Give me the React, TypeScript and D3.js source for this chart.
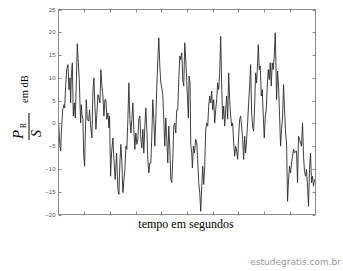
import React from "react";
import * as d3 from "d3";

const timeSec = [
  0.01, 0.045, 0.084, 0.11, 0.162, 0.214, 0.24, 0.278, 0.317, 0.369, 0.408, 0.447, 0.472, 0.498, 0.537, 0.576,
  0.615, 0.654, 0.693, 0.731, 0.77, 0.809, 0.835, 0.861, 0.887, 0.913, 0.951, 0.977, 1.016, 1.042, 1.081, 1.12,
  1.172, 1.21, 1.249, 1.301, 1.34, 1.379, 1.417, 1.456, 1.495, 1.534, 1.573, 1.612, 1.65, 1.689, 1.728, 1.767,
  1.806, 1.845, 1.883, 1.922, 1.961, 1.987, 2.026, 2.065, 2.117, 2.155, 2.207, 2.259, 2.311, 2.35, 2.388, 2.427,
  2.466, 2.505,
  2.583, 2.621, 2.66, 2.699, 2.738, 2.777, 2.816, 2.854, 2.893, 2.932, 2.971, 3.01, 3.049, 3.087, 3.126, 3.165,
  3.204, 3.243, 3.282, 3.32, 3.359, 3.398, 3.437, 3.476, 3.515, 3.553, 3.592, 3.631, 3.67, 3.709, 3.748, 3.786,
  3.825, 3.864, 3.903, 3.942, 3.981, 4.019, 4.058, 4.097, 4.136, 4.175, 4.214, 4.252, 4.291, 4.33, 4.369, 4.408,
  4.447, 4.485, 4.524, 4.563, 4.602, 4.641, 4.68, 4.718, 4.757, 4.796, 4.835, 4.874, 4.913, 4.951,
  5.016, 5.055, 5.081, 5.12, 5.146, 5.184, 5.21, 5.249, 5.288, 5.34, 5.379, 5.417, 5.456, 5.495, 5.534, 5.573,
  5.612, 5.65, 5.689, 5.728, 5.767, 5.806, 5.845, 5.883, 5.922, 5.961, 6.0, 6.039, 6.078, 6.117, 6.155, 6.194,
  6.233, 6.272, 6.311, 6.35, 6.388, 6.427, 6.466, 6.505, 6.544, 6.583, 6.621, 6.66, 6.699, 6.738, 6.777, 6.816,
  6.854, 6.893, 6.932, 6.971, 7.01, 7.049, 7.087, 7.126, 7.165, 7.204, 7.243, 7.282, 7.32, 7.359, 7.398, 7.437,
  7.476,
  7.515, 7.553, 7.592, 7.631, 7.67, 7.709, 7.748, 7.773, 7.812, 7.851, 7.89, 7.929, 7.968, 8.006, 8.045, 8.084,
  8.123, 8.162, 8.201, 8.24, 8.278, 8.317, 8.356, 8.395, 8.434, 8.459, 8.485, 8.524, 8.563, 8.602, 8.641, 8.68,
  8.718, 8.757, 8.796, 8.835, 8.874, 8.913, 8.951, 8.99, 9.029, 9.068, 9.107, 9.146, 9.184, 9.223, 9.262, 9.301,
  9.34, 9.379, 9.417, 9.456, 9.495, 9.534, 9.573, 9.612, 9.65, 9.689, 9.728, 9.767, 9.806, 9.845, 9.883, 9.922,
  9.961,
];

const prDb = [
  0.1, -4.3, -6.1, -2.1, 3.0, 4.1, 3.4, 8.2, 11.8, 12.9, 7.4, 10, 4.5, 10, 13.3, 1.6,
  4.5, 1.2, 8.9, 17.5, 13.3, 9.6, 4.5, 0.1, 4.1, 2, 0.9, -6.5, -9.4, -2.8, 5.2, 0.9,
  0.5, 3, -0.6, -3.2, 7.4, 10, 3.8, -1.3, 2.3, 6.3, 5.6, 4.5, 11.8, 8.2, 6, 1.6,
  5.2, 5.2, 0.9, 2.3, -1, 1.6, -11.6, -6.5, -3.2, -7.9, -12.3, -6.5, -14.5, -15.6, -8.7, -4.6,
  -8.7, -15.2,
  -10.1, -5, -5.7, 0.9, 8.9, 0.9, -2.1, 0.9, 4.5, -1.3, -5.7, -2.1, -4.6, -3.5, 0.9, 1.6,
  -3.5, -5.4, -1.3, -6.5, -0.6, 3.4, -1.3, -7.9, -10.9, -8.7, -8.7, -2.8, 5.2, 0.9, -5, 0.9,
  8.2, 14, 18.8, 12.6, 8.9, 7.8, 6.3, 0.9, -5, 1.2, -3.5, -8.7, -0.6, -5, -12.3, -13,
  -7.9, -0.6, 0.1, -2.1, 3, 3, 9.6, 14.8, 14, 15.5, 9.6, 8.2, 17.7, 14,
  6, 1.2, 10.4, 8.9, -4.6, -6.5, -9.8, -5, -6.5, -3.5, -4.3, -7.9, -13, -15.2, -19.3, -13.8,
  -9.4, -13.4, -9.4, -1.3, 0.1, -0.6, 3.8, 6, 4.5, 7.1, 3, 5.2, 0.1, 3, 5.2, 8.9,
  7.4, 11.1, 19.1, 8.2, 0.9, 3.8, -0.6, 3, 6, 0.9, 11.1, 5.2, 1.6, -0.6, 0.1, -4.3,
  -7.2, -5, -6.1, -7.9, -2.8, 0.9, 1.6, -0.6, -3.5, -7.9, -2.8, -6.5, -3.5, 0.1, 4.5, 8.2,
  12.9,
  2.3, -0.6, -1.7, 3.8, 11.1, 8.9, 13.3, 17.3, 11.8, 12.6, 6, 7.4, 1.6, -3.2, 1.6, 3,
  8.2, 11.8, 9.6, 13.3, 8.2, 13.3, 11.8, 14.8, 19.9, 13.3, 5.2, 11.5, 8.2, 1.6, -5, -1.3,
  1.6, 8.5, 3, -2.1, -4.3, -17.1, -12.3, -9.4, -10.9, -8.7, -7.2, -5.7, -6.5, -6.1, -6.1, -13,
  -2.8, -3.5, -4.3, -5, 0.1, -7.2, -10.5, -11.6, -10.1, -13.8, -18.2, -10.1, -6.5, -13, -11.6, -13.8,
  -12.3,
];

const yTicks = [-20, -15, -10, -5, 0, 5, 10, 15, 20, 25];
const xTicks = [1, 2, 3, 4, 5, 6, 7, 8, 9];
const xLabel = "tempo em segundos";
const watermark = "estudegratis.com.br";

export default function App() {
  const W = 343;
  const H = 271;
  const x = d3.scaleLinear().domain([0, 10]).range([58.5, 315.5]);
  const y = d3.scaleLinear().domain([-20, 25]).range([214.5, 9.5]);
  const line = d3
    .line<number>()
    .x((_, i) => x(timeSec[i]))
    .y((d) => y(d));

  const left = x(0);
  const right = x(10);
  const top = y(25);
  const bottom = y(-20);
  const tl = 3;
  const axisColor = "#8a8a8a";

  return (
    <svg
      width={W}
      height={H}
      style={{ position: "absolute", left: 0, top: 0, background: "#fff" }}
    >
      <rect x={0} y={0} width={W} height={H} fill="#fff" />
      <path d={line(prDb) || ""} fill="none" stroke="#2a2a2a" strokeWidth={0.9} strokeLinejoin="round" />
      <rect x={left} y={top} width={right - left} height={bottom - top} fill="none" stroke={axisColor} strokeWidth={1} />
      {yTicks.map((t) => (
        <g key={"y" + t}>
          <line x1={left} x2={left + tl} y1={Math.round(y(t)) + 0.5} y2={Math.round(y(t)) + 0.5} stroke={axisColor} />
          <line x1={right} x2={right - tl} y1={Math.round(y(t)) + 0.5} y2={Math.round(y(t)) + 0.5} stroke={axisColor} />
          <text
            x={55.5}
            y={y(t)}
            dy="0.35em"
            textAnchor="end"
            fontFamily="'Liberation Sans', Arial, sans-serif"
            fontSize={6}
            fill="#555"
          >
            {t < 0 ? "\u2212" + Math.abs(t) : String(t)}
          </text>
        </g>
      ))}
      {xTicks.map((t) => (
        <g key={"x" + t}>
          <line x1={Math.round(x(t)) + 0.5} x2={Math.round(x(t)) + 0.5} y1={bottom} y2={bottom - tl} stroke={axisColor} />
          <line x1={Math.round(x(t)) + 0.5} x2={Math.round(x(t)) + 0.5} y1={top} y2={top + tl} stroke={axisColor} />
        </g>
      ))}
      <text
        x={186}
        y={228}
        textAnchor="middle"
        fontFamily="'Liberation Serif', 'Times New Roman', serif"
        fontSize={12}
        fill="#000"
      >
        {xLabel}
      </text>
      <g transform="translate(29,140) rotate(-90)" fontFamily="'Liberation Serif', 'Times New Roman', serif" fill="#000">
        <line x1={0} x2={27} y1={0} y2={0} stroke="#000" strokeWidth={1} />
        <text x={1} y={-6} fontSize={15} fontStyle="italic">P</text>
        <text x={12} y={-3} fontSize={7.5}>R</text>
        <text x={3} y={12} fontSize={14} fontStyle="italic">S</text>
        <text x={37} y={-1} fontSize={10.5}>em dB</text>
      </g>
      <text
        x={341}
        y={265}
        textAnchor="end"
        fontFamily="'DejaVu Sans', sans-serif"
        fontSize={9}
        fill="#9a9a9a"
      >
        {watermark}
      </text>
    </svg>
  );
}
